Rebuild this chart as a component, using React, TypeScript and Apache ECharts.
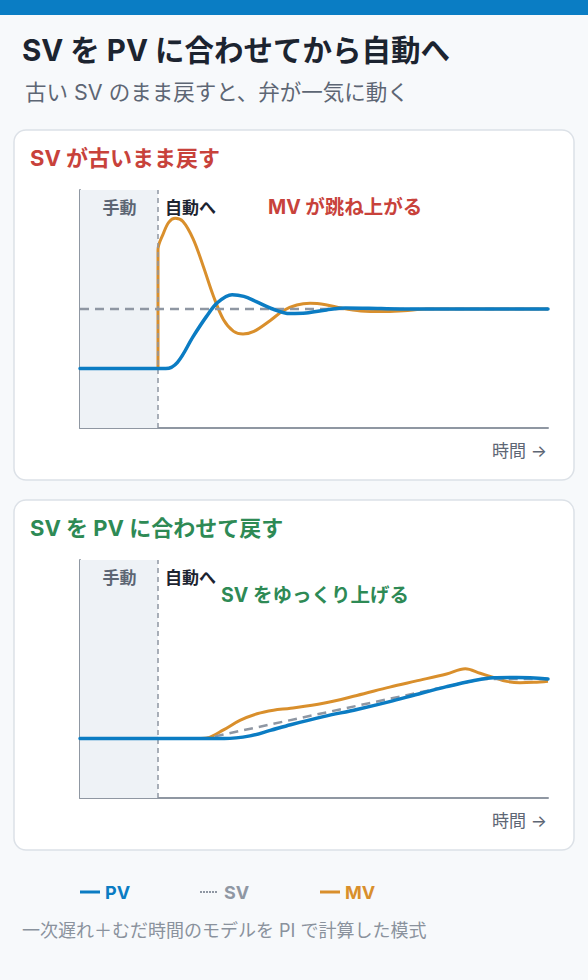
import React, { useEffect, useRef } from "react";
import * as echarts from "echarts";

const FONT = 'Inter, "Noto Sans CJK JP", "Noto Sans", sans-serif';

// ---- texts ----
const titleText = "SV を PV に合わせてから自動へ";
const subtitleText = "古い SV のまま戻すと、弁が一気に動く";
const panelTitles = ["SV が古いまま戻す", "SV を PV に合わせて戻す"];
const panelNotes = ["MV が跳ね上がる", "SV をゆっくり上げる"];
const manualLabel = "手動";
const autoLabel = "自動へ";
const timeLabel = "時間 →";
const legendNames = ["PV", "SV", "MV"];
const footnoteText = "一次遅れ＋むだ時間のモデルを PI で計算した模式";

// ---- axes ----
const timeMin = 0;
const timeMax = 60;
const valueMin = 0;
const valueMax = 100;
const switchTime = 10;

// ---- panel 1: SV left at old value ----
const oldSvSV: number[][] = [[0, 50], [60, 50]];
const oldSvPV: number[][] = [
  [0, 25], [10, 25], [11, 25], [12.5, 27.6], [14.5, 38.4], [16.2, 46.8], [17.6, 52.6],
  [19.5, 56], [21, 55.3], [22.6, 53.1], [24.8, 49.9], [26.9, 48.1], [29, 48.3],
  [31.6, 49.6], [34, 50.4], [37, 50.3], [41, 50], [60, 50],
];
const oldSvMV: number[][] = [
  [10, 25], [10, 74.8], [10.7, 81.8], [11.4, 86.5], [12.2, 88.1], [13.2, 86.8],
  [14.5, 79.5], [15.8, 68], [17.1, 55.5], [18.4, 45.5], [19.7, 40.6], [20.9, 39.5],
  [22.3, 40.6], [24.4, 45.2], [26.1, 49.4], [27.8, 51.7], [29.5, 52.4], [31.5, 51.8],
  [33.5, 50.4], [36, 49.2], [38.8, 48.9], [41.5, 49.3], [44.5, 50], [47, 50], [60, 50],
];

// ---- panel 2: SV matched to PV, then ramped ----
const matchSV: number[][] = [[0, 25], [16, 25], [51.5, 50], [60, 50]];
const matchPV: number[][] = [
  [0, 25], [17.5, 25], [18.5, 25], [21.8, 26.1], [24.4, 28.4], [27, 30.8], [31.2, 34.2],
  [35.5, 37.2], [39.7, 40.5], [43, 43.4], [47, 46.8], [50.4, 49.3], [53, 50.5],
  [56, 50.6], [60, 50],
];
const matchMV: number[][] = [
  [0, 25], [15.5, 25], [16.3, 25.2], [18.4, 28.6], [20.5, 32.6], [22.7, 35.4],
  [24.8, 36.9], [27, 37.7], [31.2, 39.8], [35.5, 43.1], [39.7, 46.6], [43, 49.1],
  [47, 52.1], [49.4, 54.3], [51.3, 52.4], [53, 50.7], [54.7, 49], [56.4, 48.4],
  [58.2, 48.6], [60, 49.1],
];

// ---- colours ----
const C = {
  bg: "#F7F9FB",
  bar: "#0A7DC4",
  dark: "#1C2430",
  sub: "#5D6674",
  muted: "#8A929D",
  card: "#FFFFFF",
  cardBorder: "#DCE1E7",
  axis: "#8F97A2",
  shade: "#EEF2F6",
  pv: "#0B7CC3",
  sv: "#8F97A3",
  mv: "#D98F2C",
  red: "#C8423B",
  green: "#2E8A55",
};

const App: React.FC = () => {
  const ref = useRef<HTMLDivElement>(null);

  useEffect(() => {
    document.body.style.margin = "0";
    if (!ref.current) return;
    const chart = echarts.init(ref.current, undefined, { renderer: "svg" });

    const grids = [
      { left: 80, top: 190, width: 468, height: 238 },
      { left: 80, top: 560, width: 468, height: 238 },
    ];
    const panels = [
      { pv: oldSvPV, sv: oldSvSV, mv: oldSvMV },
      { pv: matchPV, sv: matchSV, mv: matchMV },
    ];

    const axisCommon = {
      axisLine: { show: true, onZero: false, lineStyle: { color: C.axis, width: 2 } },
      axisTick: { show: false },
      axisLabel: { show: false },
      splitLine: { show: false },
    };

    const series: any[] = [];
    panels.forEach((p, i) => {
      series.push({
        name: "MV",
        type: "line",
        xAxisIndex: i,
        yAxisIndex: i,
        data: p.mv,
        showSymbol: false,
        smooth: 0.35,
        lineStyle: { color: C.mv, width: 3 },
        z: 3,
        markArea: {
          silent: true,
          itemStyle: { color: C.shade },
          data: [[{ xAxis: timeMin }, { xAxis: switchTime }]],
        },
        markLine: {
          silent: true,
          symbol: "none",
          label: { show: false },
          lineStyle: { color: C.sv, type: [5, 4], width: 1.5 },
          data: [{ xAxis: switchTime }],
        },
      });
      series.push({
        name: "SV",
        type: "line",
        xAxisIndex: i,
        yAxisIndex: i,
        data: p.sv,
        showSymbol: false,
        lineStyle: { color: C.sv, width: 2.5, type: [9, 6] },
        z: 4,
      });
      series.push({
        name: "PV",
        type: "line",
        xAxisIndex: i,
        yAxisIndex: i,
        data: p.pv,
        showSymbol: false,
        smooth: 0.35,
        lineStyle: { color: C.pv, width: 3.5, cap: "round" },
        z: 5,
      });
    });

    const txt = (
      x: number, y: number, text: string, size: number, fill: string,
      weight: string | number = "normal", align = "left"
    ) => ({
      type: "text",
      x, y, z: 100,
      style: {
        text, fill, fontSize: size, fontWeight: weight, fontFamily: FONT,
        textAlign: align, textVerticalAlign: "middle",
      },
    });

    const cardTops = [130, 500];
    const graphics: any[] = [
      { type: "rect", z: -100, shape: { x: 0, y: 0, width: 588, height: 15 }, style: { fill: C.bar } },
      txt(22, 50, titleText, 29.5, C.dark, "bold"),
      txt(25, 92, subtitleText, 21.5, C.sub),
    ];
    cardTops.forEach((top, i) => {
      graphics.push({
        type: "rect", z: -100,
        shape: { x: 14, y: top, width: 560, height: 350, r: 12 },
        style: { fill: C.card, stroke: C.cardBorder, lineWidth: 1.5 },
      });
      graphics.push(txt(30, top + 28, panelTitles[i], 22, i === 0 ? C.red : C.green, "bold"));
      graphics.push(txt(119.5, top + 78, manualLabel, 17, C.sub, "bold", "center"));
      graphics.push(txt(165, top + 78, autoLabel, 17, C.dark, "bold"));
      graphics.push(txt(547, top + 321, timeLabel, 17, C.sub, "normal", "right"));
    });
    graphics.push(txt(268, 207, panelNotes[0], 19.5, C.red, "bold"));
    graphics.push(txt(221, 595, panelNotes[1], 19.5, C.green, "bold"));

    // legend
    const legendY = 892;
    const legendX = [80, 200, 320];
    const legendColors = [C.pv, C.sv, C.mv];
    legendNames.forEach((n, i) => {
      const x0 = legendX[i];
      graphics.push({
        type: "line", z: 100,
        shape: { x1: x0, y1: legendY, x2: x0 + (i === 1 ? 18 : 20), y2: legendY },
        style: {
          stroke: legendColors[i],
          lineWidth: i === 1 ? 2 : 3,
          lineDash: i === 1 ? [2, 1] : null,
        },
      });
      graphics.push(txt(x0 + (i === 1 ? 24 : 25), legendY, n, 18, legendColors[i], "bold"));
    });
    graphics.push(txt(22, 930, footnoteText, 18, C.muted));

    chart.setOption({
      animation: false,
      backgroundColor: C.bg,
      textStyle: { fontFamily: FONT },
      grid: grids,
      xAxis: grids.map((_, i) => ({
        type: "value", gridIndex: i, min: timeMin, max: timeMax, ...axisCommon,
      })),
      yAxis: grids.map((_, i) => ({
        type: "value", gridIndex: i, min: valueMin, max: valueMax, ...axisCommon,
      })),
      series,
      graphic: graphics,
    });

    return () => chart.dispose();
  }, []);

  return <div ref={ref} style={{ width: 588, height: 980 }} />;
};

export default App;
